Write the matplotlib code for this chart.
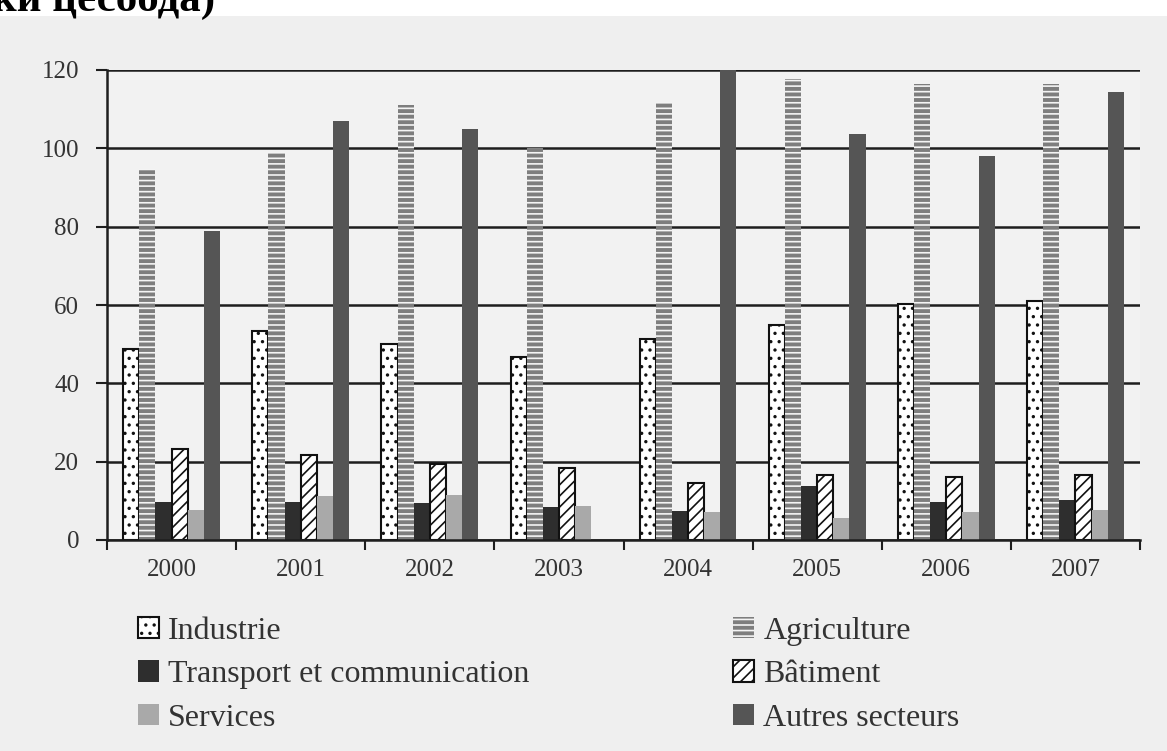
import numpy as np
import matplotlib
matplotlib.use("Agg")
import matplotlib.pyplot as plt
from matplotlib.patches import Patch, Rectangle

# data
years = ['2000', '2001', '2002', '2003', '2004', '2005', '2006', '2007']
industrie = [48.8, 53.4, 50.0, 46.7, 51.3, 55.0, 60.2, 61.0]
agriculture = [94.7, 99.0, 111.0, 100.0, 111.8, 117.7, 116.4, 116.4]
transport = [9.8, 9.7, 9.5, 8.5, 7.5, 13.9, 9.7, 10.2]
batiment = [23.2, 21.8, 19.5, 18.4, 14.5, 16.7, 16.2, 16.7]
services = [7.7, 11.3, 11.5, 8.8, 7.1, 5.6, 7.2, 7.7]
autres = [78.9, 107.0, 105.0, 0.0, 120.0, 103.7, 98.1, 114.5]

labels = ['Industrie', 'Agriculture', 'Transport et communication',
          'Bâtiment', 'Services', 'Autres secteurs']
yticks = [0, 20, 40, 60, 80, 100, 120]

plt.rcParams['font.family'] = ['Liberation Serif', 'DejaVu Serif']
plt.rcParams['hatch.linewidth'] = 1.2

W, H = 1167, 751
fig = plt.figure(figsize=(W/100, H/100), dpi=100, facecolor='#efefef')
ax = fig.add_axes([107/W, 1-540/H, (1140-107)/W, 470/H])
ax.set_facecolor('#f2f2f2')

# white strip with the cut text line above the scan
fig.patches.append(Rectangle((0, 1-16/H), 1, 16/H, transform=fig.transFigure,
                             facecolor='white', edgecolor='none', zorder=0))
fig.text(215/W, 1-11/H, 'ки цесоода)', ha='right', va='baseline',
         fontsize=31, fontweight='bold', color='black')

x = np.arange(len(years))
w = 0.125
styles = [
    dict(facecolor='white', edgecolor='#111111', hatch='..', linewidth=1.5),
    dict(facecolor='#7e7e7e', edgecolor='#f4f4f4', hatch='---', linewidth=0),
    dict(facecolor='#2e2e2e', edgecolor='none'),
    dict(facecolor='white', edgecolor='#111111', hatch='///', linewidth=1.5),
    dict(facecolor='#a9a9a9', edgecolor='none'),
    dict(facecolor='#555555', edgecolor='none'),
]
series = [industrie, agriculture, transport, batiment, services, autres]
for i, (vals, st) in enumerate(zip(series, styles)):
    ax.bar(x + (i-2.5)*w, vals, w, zorder=3, **st)

ax.set_xlim(-0.5, 7.5)
ax.set_ylim(0, 120)
ax.set_yticks(yticks)
ax.yaxis.grid(True, color='#1e1e1e', linewidth=1.8, zorder=1)
ax.set_axisbelow(True)
for s in ['top', 'right']:
    ax.spines[s].set_visible(False)
for s in ['left', 'bottom']:
    ax.spines[s].set_color('#1e1e1e')
    ax.spines[s].set_linewidth(1.8)
ax.spines['bottom'].set_zorder(4)

ax.set_xticks(x)
ax.set_xticklabels(years)
ax.set_xticks(np.arange(-0.5, 8.0, 1.0), minor=True)
ax.tick_params(axis='x', which='major', length=0, pad=14, labelsize=18, labelcolor='#333333')
ax.tick_params(axis='x', which='minor', length=7, width=1.5, direction='out', color='#1e1e1e')
ax.tick_params(axis='y', length=8, width=1.5, direction='out', color='#1e1e1e',
               pad=12, labelsize=18, labelcolor='#333333')

handles = [Patch(label=l, **st) for l, st in zip(labels, styles)]
common = dict(frameon=False, fontsize=23, handlelength=0.65, handleheight=0.65,
              handletextpad=0.3, labelspacing=0.45, borderpad=0, borderaxespad=0)
leg1 = fig.legend(handles=[handles[0], handles[2], handles[4]], loc='upper left',
                  bbox_to_anchor=(138/W, 1-617/H), **common)
leg2 = fig.legend(handles=[handles[1], handles[3], handles[5]], loc='upper left',
                  bbox_to_anchor=(733/W, 1-617/H), **common)
for leg in (leg1, leg2):
    for t in leg.get_texts():
        t.set_color('#333333')

fig.savefig('out.png', dpi=100, facecolor=fig.get_facecolor())
